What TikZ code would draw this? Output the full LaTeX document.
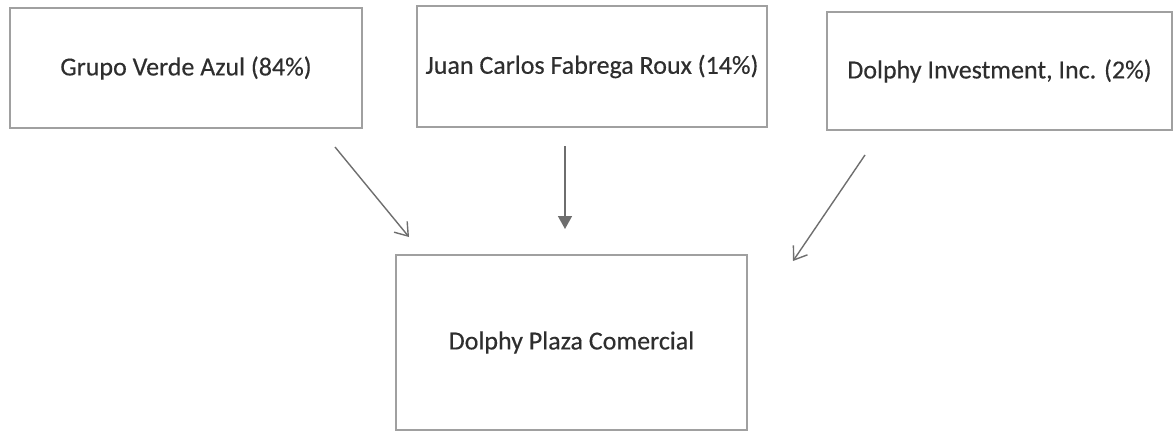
\documentclass[tikz,border=0pt]{standalone}
\usepackage{fontspec}
\setmainfont{Carlito}
\newfontfamily\boxfont{Carlito}[FakeBold=0.35]
\usetikzlibrary{arrows.meta}
\definecolor{boxline}{HTML}{A0A0A0}
\definecolor{arrowc}{HTML}{6E6E6E}
\definecolor{txt}{HTML}{2E2E2E}
\begin{document}
\begin{tikzpicture}[x=1pt,y=-1pt,
  box/.style={draw=boxline, line width=1.2pt, rectangle, inner sep=0pt, text=txt,
    font=\boxfont\fontsize{26}{30}\selectfont},
  openarrow/.style={draw=arrowc, line width=1.4pt, -{Straight Barb[length=12pt,width=17pt,line width=1.4pt]}},
  fillarrow/.style={draw=arrowc, line width=1.6pt, -{Triangle[length=13pt,width=14pt]}}]
\useasboundingbox (0,0) rectangle (1176,431);
\node[box, minimum width=352pt, minimum height=120pt] (g) at (186,68) {Grupo Verde Azul (84\%)};
\node[box, minimum width=350pt, minimum height=121pt] (j) at (592,66.5) {Juan Carlos Fabrega Roux (14\%)};
\node[box, minimum width=345pt, minimum height=118pt] (d) at (999.5,71) {Dolphy Investment, Inc. (2\%)};
\node[box, minimum width=351pt, minimum height=175pt] (p) at (571.5,342.5) {Dolphy Plaza Comercial};
\coordinate (a1s) at (335,147);
\coordinate (a1e) at (409,237);
\coordinate (a2s) at (565,146);
\coordinate (a2e) at (565,229);
\coordinate (a3s) at (865,155);
\coordinate (a3e) at (793,261);
\draw[openarrow] (a1s) -- (a1e);
\draw[fillarrow] (a2s) -- (a2e);
\draw[openarrow] (a3s) -- (a3e);
\end{tikzpicture}
\end{document}
